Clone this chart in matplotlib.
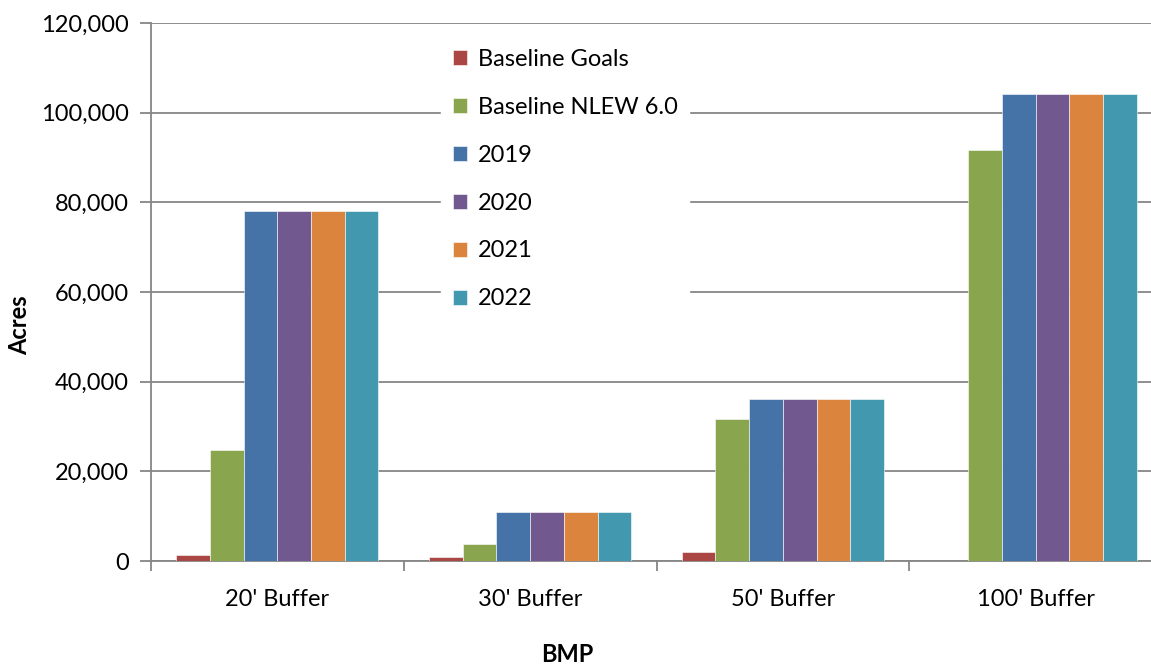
import matplotlib
matplotlib.use("Agg")
import matplotlib.pyplot as plt
import numpy as np
from matplotlib.ticker import FuncFormatter, FixedLocator

plt.rcParams['font.family'] = ['Lato', 'DejaVu Sans']

categories = ["20' Buffer", "30' Buffer", "50' Buffer", "100' Buffer"]
series_names = ["Baseline Goals", "Baseline NLEW 6.0", "2019", "2020", "2021", "2022"]
baseline_goals = [1400, 800, 2000, 0]
baseline_nlew = [24800, 3700, 31700, 91700]
y2019 = [78100, 10900, 36200, 104200]
y2020 = [78100, 10900, 36200, 104200]
y2021 = [78100, 10900, 36200, 104200]
y2022 = [78100, 10900, 36200, 104200]
colors = ["#AA4643", "#89A54E", "#4572A7", "#71588F", "#DB843D", "#4198AF"]

series = [baseline_goals, baseline_nlew, y2019, y2020, y2021, y2022]

FS = 17
W, H = 1151, 666
fig = plt.figure(figsize=(W / 100, H / 100), dpi=100)
ax = fig.add_axes([151 / W, 1 - 561 / H, (1162 - 151) / W, (561 - 23) / H])

x = np.arange(len(categories))
bw = 1 / 7.5
for i, (vals, c, name) in enumerate(zip(series, colors, series_names)):
    offs = (i - 2.5) * bw
    ax.bar(x + offs, vals, width=bw, color=c, label=name, edgecolor='#ffffff',
           linewidth=0.4, zorder=3)

ax.set_xlim(-0.5, len(categories) - 0.5)
ax.set_ylim(0, 120000)
ax.set_yticks(np.arange(0, 120001, 20000))
ax.yaxis.set_major_formatter(FuncFormatter(lambda v, p: f"{int(v):,}"))
ax.grid(axis='y', color='#868686', linewidth=1.3, zorder=0)

ax.set_xticks(x)
ax.set_xticklabels(categories)
ax.xaxis.set_minor_locator(FixedLocator(np.arange(-0.5, len(categories), 1.0)))
ax.tick_params(axis='x', which='major', length=0, pad=20, labelsize=FS)
ax.tick_params(axis='x', which='minor', length=7, width=1.3, color='#868686')
ax.tick_params(axis='y', length=8, width=1.3, color='#868686', pad=8, labelsize=FS)

for s in ['top', 'right']:
    ax.spines[s].set_visible(False)
for s in ['left', 'bottom']:
    ax.spines[s].set_color('#868686')
    ax.spines[s].set_linewidth(1.3)

fig.text(20 / W, 1 - 325 / H, "Acres", rotation=90, ha='center', va='center',
         fontsize=FS, fontweight='bold')
fig.text(567 / W, 1 - 654 / H, "BMP", ha='center', va='center',
         fontsize=FS, fontweight='bold')

leg = ax.legend(loc='upper left', bbox_to_anchor=(441 / W, 1 - 37 / H),
                bbox_transform=fig.transFigure, frameon=True, fancybox=False,
                fontsize=FS, labelspacing=1.14, handlelength=0.6,
                handleheight=0.6, handletextpad=0.45, borderpad=0.5,
                borderaxespad=0)
leg.get_frame().set_facecolor('white')
leg.get_frame().set_edgecolor('white')
leg.get_frame().set_alpha(1)
leg.set_zorder(5)

fig.savefig("out.png", dpi=100)
